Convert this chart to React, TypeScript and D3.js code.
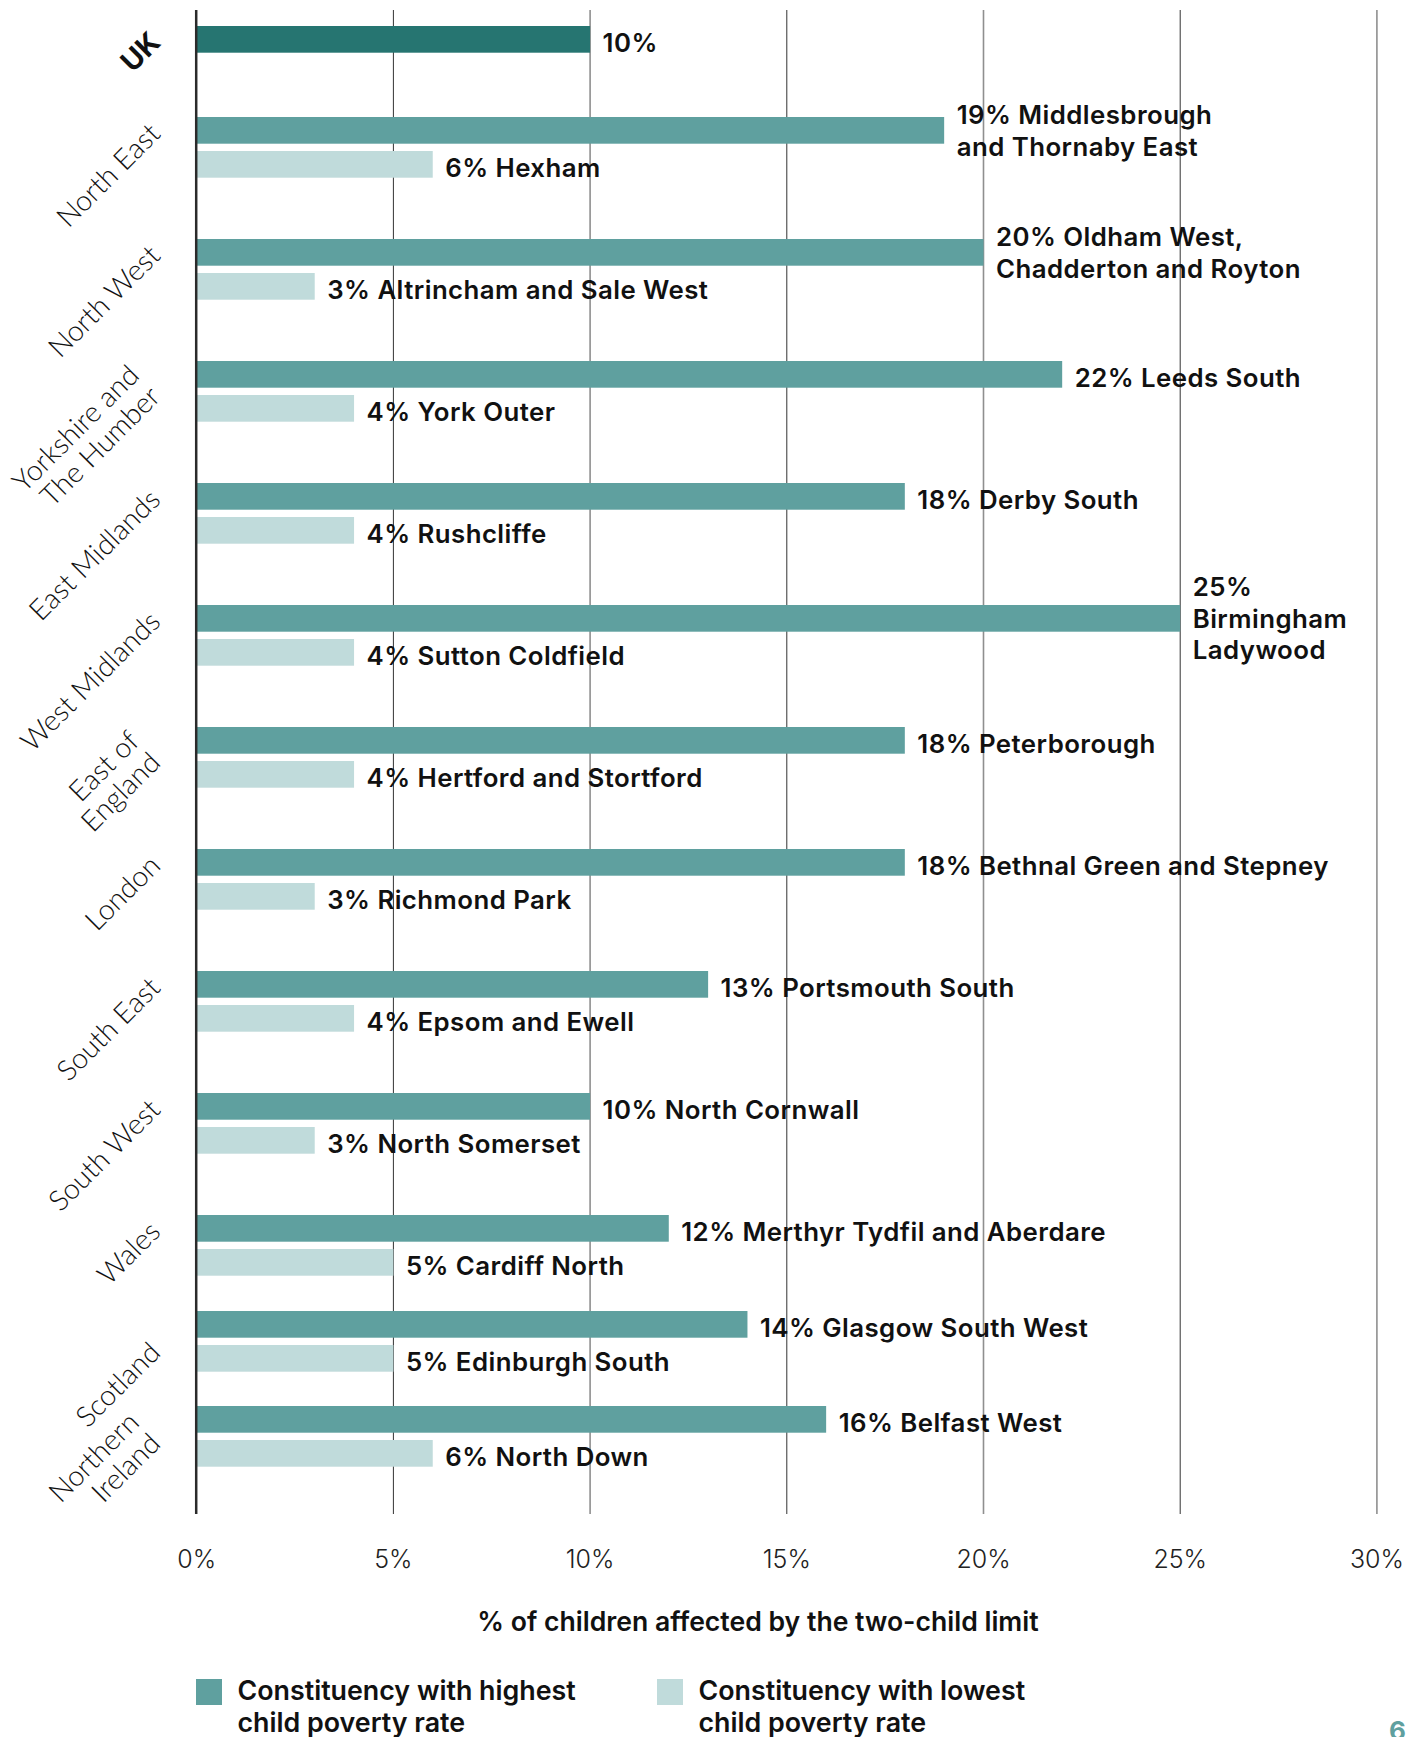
import React from "react";
import * as d3 from "d3";

const regions = [
  "UK",
  "North East",
  "North West",
  "Yorkshire and\nThe Humber",
  "East Midlands",
  "West Midlands",
  "East of\nEngland",
  "London",
  "South East",
  "South West",
  "Wales",
  "Scotland",
  "Northern\nIreland",
];
const highValues = [10, 19, 20, 22, 18, 25, 18, 18, 13, 10, 12, 14, 16];
const highLabels = [
  "10%",
  "19% Middlesbrough\nand Thornaby East",
  "20% Oldham West,\nChadderton and Royton",
  "22% Leeds South",
  "18% Derby South",
  "25%\nBirmingham\nLadywood",
  "18% Peterborough",
  "18% Bethnal Green and Stepney",
  "13% Portsmouth South",
  "10% North Cornwall",
  "12% Merthyr Tydfil and Aberdare",
  "14% Glasgow South West",
  "16% Belfast West",
];
const lowValues = [null, 6, 3, 4, 4, 4, 4, 3, 4, 3, 5, 5, 6];
const lowLabels = [
  "",
  "6% Hexham",
  "3% Altrincham and Sale West",
  "4% York Outer",
  "4% Rushcliffe",
  "4% Sutton Coldfield",
  "4% Hertford and Stortford",
  "3% Richmond Park",
  "4% Epsom and Ewell",
  "3% North Somerset",
  "5% Cardiff North",
  "5% Edinburgh South",
  "6% North Down",
];
const xTicks = [0, 5, 10, 15, 20, 25, 30];
const axisTitle = "% of children affected by the two-child limit";
const legendItems = [
  "Constituency with highest\nchild poverty rate",
  "Constituency with lowest\nchild poverty rate",
];

const C_UK = "#267571";
const C_HIGH = "#5fa09f";
const C_LOW = "#c0dbdb";
const LABEL_FONT = "Inter, 'Open Sans', sans-serif";
const CAT_FONT = "Lato, 'Open Sans', sans-serif";

export default function App() {
  const W = 1421;
  const H = 1737;
  const x = d3.scaleLinear().domain([0, 30]).range([196.7, 1376.9]);
  // row position (top of the first bar in each group)
  const row = d3
    .scaleLinear()
    .domain([0, 1, 10, 11, 12])
    .range([26, 117, 1215, 1311, 1406]);
  const barH = 26.7;
  const lowOff = 34;
  const lh = 31.6;
  const gridTop = 10;
  const gridBottom = 1514;

  const valueLabel = (text: string, x0: number, yc: number, key: string) => {
    const lines = text.split("\n");
    const n = lines.length;
    const base = yc + (n === 1 ? 12.5 : 9.5) - ((n - 1) * lh) / 2;
    return (
      <text
        key={key}
        x={x0 + 12.5}
        y={base}
        fontFamily={LABEL_FONT}
        fontWeight={600}
        fontSize={25.8}
        letterSpacing={0.45}
        fill="#111"
      >
        {lines.map((l, i) => (
          <tspan key={i} x={x0 + 12.5} y={base + i * lh}>
            {l}
          </tspan>
        ))}
      </text>
    );
  };

  const catNudge: Record<string, number> = { Scotland: 25, "Northern\nIreland": 2 };
  const catLh = 30;

  return (
    <svg
      width={W}
      height={H}
      style={{ position: "absolute", left: 0, top: 0, background: "#fff" }}
    >
      {/* gridlines */}
      {xTicks.slice(1).map((t) => (
        <line
          key={t}
          x1={x(t)}
          x2={x(t)}
          y1={gridTop}
          y2={gridBottom}
          stroke={t % 10 === 0 ? "#8f8f8f" : "#333"}
          strokeWidth={t % 10 === 0 ? 1.6 : 1}
        />
      ))}

      {/* bars */}
      {regions.map((r, i) => {
        const y0 = row(i);
        const lv = lowValues[i];
        return (
          <g key={r}>
            <rect
              x={x(0)}
              y={y0}
              width={x(highValues[i]) - x(0)}
              height={barH}
              fill={i === 0 ? C_UK : C_HIGH}
            />
            {lv !== null && (
              <rect
                x={x(0)}
                y={y0 + lowOff}
                width={x(lv) - x(0)}
                height={barH}
                fill={C_LOW}
              />
            )}
          </g>
        );
      })}

      {/* zero axis */}
      <line
        x1={x(0) - 0.5}
        x2={x(0) - 0.5}
        y1={gridTop}
        y2={gridBottom}
        stroke="#2b2b2b"
        strokeWidth={2.5}
      />

      {/* value labels */}
      {regions.map((r, i) => {
        const y0 = row(i);
        const out = [valueLabel(highLabels[i], x(highValues[i]), y0 + barH / 2, r + "h")];
        const lv = lowValues[i];
        if (lv !== null)
          out.push(valueLabel(lowLabels[i], x(lv), y0 + lowOff + barH / 2, r + "l"));
        return out;
      })}

      {/* category labels */}
      {regions.map((r, i) => {
        const lines = r.split("\n");
        const n = lines.length;
        const yc = row(i) + barH / 2;
        const k = (n === 1 ? 5 : 24) + (catNudge[r] || 0);
        const s = (n - 1) * catLh * Math.SQRT1_2;
        const ax = 162 - s;
        const ay = yc + k - s;
        return (
          <text
            key={r}
            transform={`translate(${ax},${ay}) rotate(-45)`}
            textAnchor="end"
            fontFamily={i === 0 ? LABEL_FONT : CAT_FONT}
            fontWeight={i === 0 ? 700 : 300}
            fontSize={28.5}
            fill="#111"
          >
            {lines.map((l, j) => (
              <tspan key={j} x={0} y={j * catLh}>
                {l}
              </tspan>
            ))}
          </text>
        );
      })}

      {/* x tick labels */}
      {xTicks.map((t) => (
        <text
          key={t}
          x={x(t)}
          y={1567.5}
          textAnchor="middle"
          fontFamily={LABEL_FONT}
          fontWeight={300}
          fontSize={25}
          fill="#222"
        >
          {t}%
        </text>
      ))}

      {/* axis title */}
      <text
        x={758}
        y={1631}
        textAnchor="middle"
        fontFamily={LABEL_FONT}
        fontWeight={600}
        fontSize={26.6}
        fill="#111"
      >
        {axisTitle}
      </text>

      {/* legend */}
      {legendItems.map((t, i) => {
        const lx = i === 0 ? 196 : 657;
        return (
          <g key={t}>
            <rect x={lx} y={1679} width={26} height={26} fill={i === 0 ? C_HIGH : C_LOW} />
            <text
              x={lx + 41.5}
              y={1700}
              fontFamily={LABEL_FONT}
              fontWeight={600}
              fontSize={26.8}
              fill="#111"
            >
              {t.split("\n").map((l, j) => (
                <tspan key={j} x={lx + 41.5} y={1700 + j * 31.7}>
                  {l}
                </tspan>
              ))}
            </text>
          </g>
        );
      })}

      {/* page number */}
      <text
        x={1389}
        y={1740}
        fontFamily={LABEL_FONT}
        fontWeight={700}
        fontSize={26}
        fill={C_HIGH}
      >
        6
      </text>
    </svg>
  );
}
